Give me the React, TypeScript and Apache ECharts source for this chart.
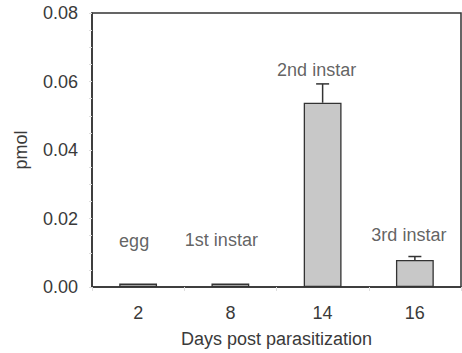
import React, { useEffect, useRef } from "react";
import * as echarts from "echarts";

const categories = ["2", "8", "14", "16"];
const stageNames = ["egg", "1st instar", "2nd instar", "3rd instar"];
const means = [0.001, 0.001, 0.0538, 0.0079];
const errors = [0, 0, 0.0055, 0.001];
const labelHeights = [0.0133, 0.0137, 0.0635, 0.0152];
const yTicks = [0, 0.02, 0.04, 0.06, 0.08];

const FONT = "Liberation Sans, Arial, sans-serif";
const TEXT = "#3a3a3a";
const FS = 18;
const LABEL_DX = [-4, -9, -6, -6];

export default function App() {
  const ref = useRef<HTMLDivElement>(null);
  useEffect(() => {
    if (!ref.current) return;
    const chart = echarts.init(ref.current, undefined, { renderer: "svg" });
    chart.setOption({
      animation: false,
      backgroundColor: "#ffffff",
      grid: {
        left: 92,
        right: 1,
        top: 13,
        bottom: 64,
        show: true,
        borderColor: "#333333",
        borderWidth: 1.5,
        backgroundColor: "transparent",
      },
      xAxis: {
        type: "category",
        data: categories,
        name: "Days post parasitization",
        nameLocation: "middle",
        nameGap: 43,
        nameTextStyle: { fontFamily: FONT, fontSize: FS, color: TEXT },
        axisLine: { lineStyle: { color: "#333333", width: 1.5 } },
        axisTick: { show: true, length: 4, lineStyle: { color: "#dddddd" } },
        axisLabel: { fontFamily: FONT, fontSize: FS, color: TEXT, margin: 17 },
        splitLine: { show: false },
      },
      yAxis: {
        type: "value",
        min: 0,
        max: yTicks[yTicks.length - 1],
        interval: 0.02,
        name: "pmol",
        nameLocation: "middle",
        nameGap: 62,
        nameTextStyle: { fontFamily: FONT, fontSize: FS, color: TEXT },
        axisLine: { show: true, lineStyle: { color: "#333333", width: 1.5 } },
        axisTick: { show: true, length: 3, lineStyle: { color: "#dddddd" } },
        minorTick: { show: true, splitNumber: 4, length: 3, lineStyle: { color: "#dddddd" } },
        axisLabel: {
          fontFamily: FONT,
          fontSize: FS,
          color: TEXT,
          margin: 14,
          formatter: (v: number) => v.toFixed(2),
        },
        splitLine: { show: false },
      },
      series: [
        {
          type: "bar",
          data: means,
          barWidth: "41%",
          itemStyle: { color: "#c8c8c8", borderColor: "#333333", borderWidth: 1.3 },
          z: 2,
        },
        {
          type: "custom",
          data: means.map((m, i) => [i, m, m + errors[i]]),
          z: 3,
          renderItem: (params: any, api: any) => {
            const i = api.value(0);
            const lo = api.coord([i, api.value(1)]);
            const hi = api.coord([i, api.value(2)]);
            if (Math.abs(lo[1] - hi[1]) < 0.5) return { type: "group", children: [] };
            const style = { stroke: "#333333", lineWidth: 1.5 };
            return {
              type: "group",
              children: [
                { type: "line", shape: { x1: lo[0], y1: lo[1], x2: hi[0], y2: hi[1] }, style },
                { type: "line", shape: { x1: hi[0] - 6.5, y1: hi[1], x2: hi[0] + 6.5, y2: hi[1] }, style },
              ],
            };
          },
        },
        {
          type: "scatter",
          symbolSize: 0,
          data: labelHeights.map((h, i) => ({
            value: [i, h],
            label: {
              show: true,
              position: "inside",
              offset: [LABEL_DX[i], 0],
              formatter: stageNames[i],
              fontFamily: FONT,
              fontSize: FS,
              color: TEXT,
            },
          })),
          z: 4,
        },
      ],
    });
    return () => chart.dispose();
  }, []);
  return <div ref={ref} style={{ width: 462, height: 353, position: "absolute", left: 0, top: 0 }} />;
}
